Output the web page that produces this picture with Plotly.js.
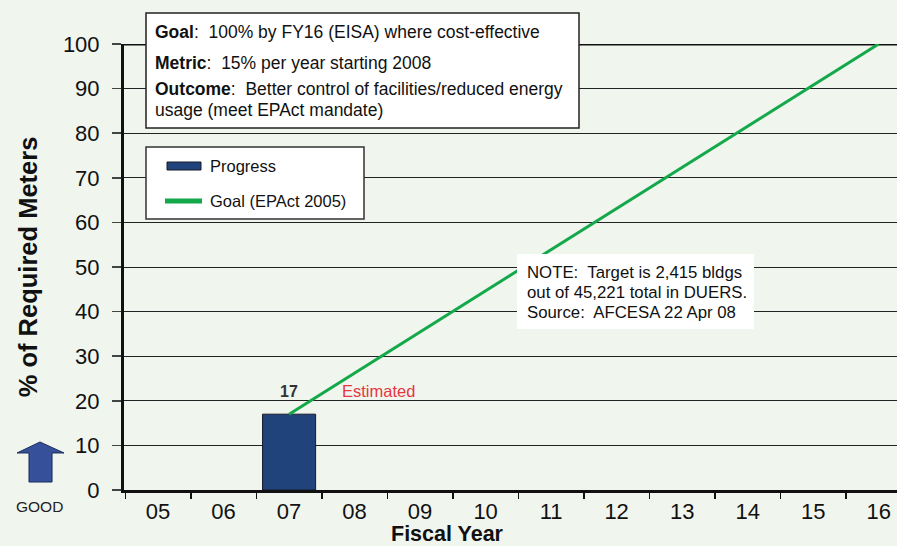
<!DOCTYPE html>
<html>
<head>
<meta charset="utf-8">
<script src="https://cdn.plot.ly/plotly-3.0.1.min.js"></script>
<style>html,body{margin:0;padding:0;background:#f0f5ee;}</style>
</head>
<body>
<div id="chart" style="width:897px;height:546px;"></div>
<script>
// ---- data ----
const fiscalYears = ['05','06','07','08','09','10','11','12','13','14','15','16'];
const progressYears = ['07'];
const progressValues = [17];
const goalYears = ['07','16'];
const goalValues = [17, 100];
const yTicks = [0,10,20,30,40,50,60,70,80,90,100];
const seriesNames = ['Progress', 'Goal (EPAct 2005)'];

// ---- layout helpers (pixel -> paper) ----
const W = 897, H = 546, ML = 124, MR = 0, MT = 44, MB = 56;
const PW = W - ML - MR, PH = H - MT - MB;
const px = x => (x - ML) / PW;
const py = y => (H - MB - y) / PH;
const FONT = 'Arial, "Liberation Sans", sans-serif';
const BAR_COLOR = '#1f437a';
const GOAL_COLOR = '#13a84a';

const traces = [
  {
    type: 'bar', name: seriesNames[0], x: progressYears, y: progressValues,
    width: 0.81,
    marker: {color: BAR_COLOR, line: {color: '#1a1a2a', width: 1}},
    showlegend: false
  },
  {
    type: 'scatter', mode: 'lines', name: seriesNames[1], x: goalYears, y: goalValues,
    line: {color: GOAL_COLOR, width: 3},
    showlegend: false
  }
];

const arrowPts = [[40,442],[64,453],[52,453],[52,482],[29,482],[29,453],[17,453]];
const arrowPath = 'M' + arrowPts.map(p => px(p[0]).toFixed(4) + ',' + py(p[1]).toFixed(4)).join(' L') + ' Z';

const goalLines = [
  {t: '<b>Goal</b>:  100% by FY16 (EISA) where cost-effective', y: 32},
  {t: '<b>Metric</b>:  15% per year starting 2008', y: 63},
  {t: '<b>Outcome</b>:  Better control of facilities/reduced energy', y: 89},
  {t: 'usage (meet EPAct mandate)', y: 110}
];
const noteLines = [
  {t: 'NOTE:  Target is 2,415 bldgs', y: 272},
  {t: 'out of 45,221 total in DUERS.', y: 292},
  {t: 'Source:  AFCESA 22 Apr 08', y: 312}
];

const textAnn = (x, y, t, size, color) => ({
  xref: 'paper', yref: 'paper', x: px(x), y: py(y), xanchor: 'left', yanchor: 'middle',
  text: t, showarrow: false, font: {family: FONT, size: size, color: color || '#111'}
});

const annotations = [];
goalLines.forEach(l => annotations.push(textAnn(153, l.y, l.t, 17.5)));
noteLines.forEach(l => annotations.push(textAnn(525, l.y, l.t, 16.8)));

// legend texts
annotations.push(textAnn(208, 166, seriesNames[0], 16.5));
annotations.push(textAnn(208, 201, seriesNames[1], 16.5));

progressYears.forEach((yr, i) => annotations.push({
  xref: 'x', yref: 'y', x: fiscalYears.indexOf(yr), y: progressValues[i], yshift: 23, yanchor: 'middle',
  text: '<b>' + progressValues[i] + '</b>', showarrow: false,
  font: {family: FONT, size: 16, color: '#333'}
}));

annotations.push({
  xref: 'x', yref: 'y', x: 3.36, y: progressValues[0], yshift: 23, yanchor: 'middle',
  text: 'Estimated', showarrow: false, font: {family: FONT, size: 16.5, color: '#e5373f'}
});

annotations.push({
  xref: 'paper', yref: 'paper', x: px(39), y: py(506), xanchor: 'center', yanchor: 'middle',
  text: 'GOOD', showarrow: false, font: {family: FONT, size: 15.5, color: '#222'}
});

// x axis title (offset-centred as in the reference)
annotations.push({
  xref: 'paper', yref: 'paper', x: px(447), y: py(534), xanchor: 'center', yanchor: 'middle',
  text: '<b>Fiscal Year</b>', showarrow: false, font: {family: FONT, size: 21.5, color: '#111'}
});

const layout = {
  width: W, height: H,
  margin: {l: ML, r: MR, t: MT, b: MB, pad: 0},
  paper_bgcolor: '#f0f5ee', plot_bgcolor: '#f0f5ee',
  font: {family: FONT, color: '#111'},
  showlegend: false,
  xaxis: {
    type: 'category', categoryorder: 'array', categoryarray: fiscalYears,
    range: [-0.52, 11.28], tickson: 'boundaries', ticks: 'outside', ticklen: 6, tickwidth: 1.5,
    tickcolor: '#111', showline: true, linewidth: 3, linecolor: '#111',
    showgrid: false, zeroline: false,
    tickfont: {family: FONT, size: 22, color: '#111'}
  },
  yaxis: {
    range: [0, 100], tickvals: yTicks, ticks: 'outside', ticklen: 9, tickwidth: 1.5, tickcolor: '#444',
    showline: true, linewidth: 3, linecolor: '#111',
    showgrid: true, gridcolor: '#222', gridwidth: 1, zeroline: false,
    ticklabelstandoff: 8,
    tickfont: {family: FONT, size: 22, color: '#111'},
    title: {text: '<b>% of Required Meters</b>', font: {family: FONT, size: 25.5, color: '#111'}, standoff: 18}
  },
  shapes: [
    {type: 'line', xref: 'paper', yref: 'y', x0: 0, x1: 1, y0: 100, y1: 100, line: {color: '#111', width: 3}, layer: 'below'},
    // goal box
    {type: 'rect', xref: 'paper', yref: 'paper', x0: px(146), x1: px(579), y0: py(13), y1: py(128),
     fillcolor: '#ffffff', line: {color: '#222', width: 1.5}, layer: 'above'},
    // note box
    {type: 'rect', xref: 'paper', yref: 'paper', x0: px(517), x1: px(754), y0: py(254), y1: py(329),
     fillcolor: '#ffffff', line: {width: 0}, layer: 'above'},
    // legend box
    {type: 'rect', xref: 'paper', yref: 'paper', x0: px(146), x1: px(364), y0: py(147), y1: py(219),
     fillcolor: '#ffffff', line: {color: '#333', width: 1.5}, layer: 'above'},
    {type: 'rect', xref: 'paper', yref: 'paper', x0: px(167), x1: px(201), y0: py(162), y1: py(170),
     fillcolor: BAR_COLOR, line: {color: '#1a1a2a', width: 1}, layer: 'above'},
    {type: 'line', xref: 'paper', yref: 'paper', x0: px(165), x1: px(202), y0: py(201), y1: py(201),
     line: {color: GOAL_COLOR, width: 5}, layer: 'above'},
    // GOOD arrow
    {type: 'path', xref: 'paper', yref: 'paper', path: arrowPath, fillcolor: '#36509a', line: {color: '#1c2c5c', width: 1}}
  ],
  annotations: annotations
};

Plotly.newPlot('chart', traces, layout, {displayModeBar: false, staticPlot: true});
</script>
</body>
</html>
